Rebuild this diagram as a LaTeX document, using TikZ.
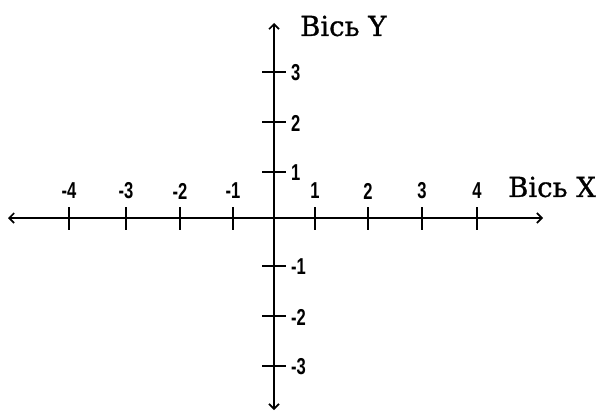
\documentclass[tikz,border=0pt]{standalone}
\usepackage{fontspec}
\setmainfont{Liberation Serif}
\newfontfamily\numfont{Liberation Sans}[FakeStretch=0.72]
\newfontfamily\titlefont{DejaVu Serif}[FakeBold=1]
\usetikzlibrary{arrows.meta}
\begin{document}
\begin{tikzpicture}[x=1pt,y=-1pt,
  axis/.style={line width=2.4pt,{Straight Barb[length=5pt,width=10pt,line width=1.6pt]}-{Straight Barb[length=5pt,width=10pt,line width=1.6pt]}},
  tick/.style={line width=2.2pt},
  num/.style={font=\numfont\bfseries\fontsize{23}{23}\selectfont,inner sep=0pt},
  title/.style={font=\titlefont\fontsize{27.5}{27.5}\selectfont,inner sep=0pt}]
\useasboundingbox (0,0) rectangle (603,412);
\coordinate (xl) at (8,218);
\coordinate (xr) at (543,218);
\coordinate (yt) at (274,23);
\coordinate (yb) at (274,410);
\draw[axis] (xl) -- (xr);
\draw[axis] (yb) -- (yt);
% x ticks
\foreach \x/\l/\n in {69/-4/xm4,126/-3/xm3,180/-2/xm2,233/-1/xm1,315/1/xp1,368/2/xp2,422/3/xp3,477/4/xp4}{
  \draw[tick] (\x,207) -- (\x,230);
  \node[num] (\n) at (\x,191) {\l};
}
% y ticks
\foreach \y/\l/\n in {72/3/yp3,122/2/yp2,172/1/yp1,266/-1/ym1,316/-2/ym2,366/-3/ym3}{
  \draw[tick] (262,\y) -- (286,\y);
  \node[num,anchor=west] (\n) at (291,\y+1) {\l};
}
\node[title,anchor=west] (ty) at (300,26) {Вісь Y};
\node[title,anchor=west] (tx) at (508,187) {Вісь X};
\end{tikzpicture}
\end{document}
